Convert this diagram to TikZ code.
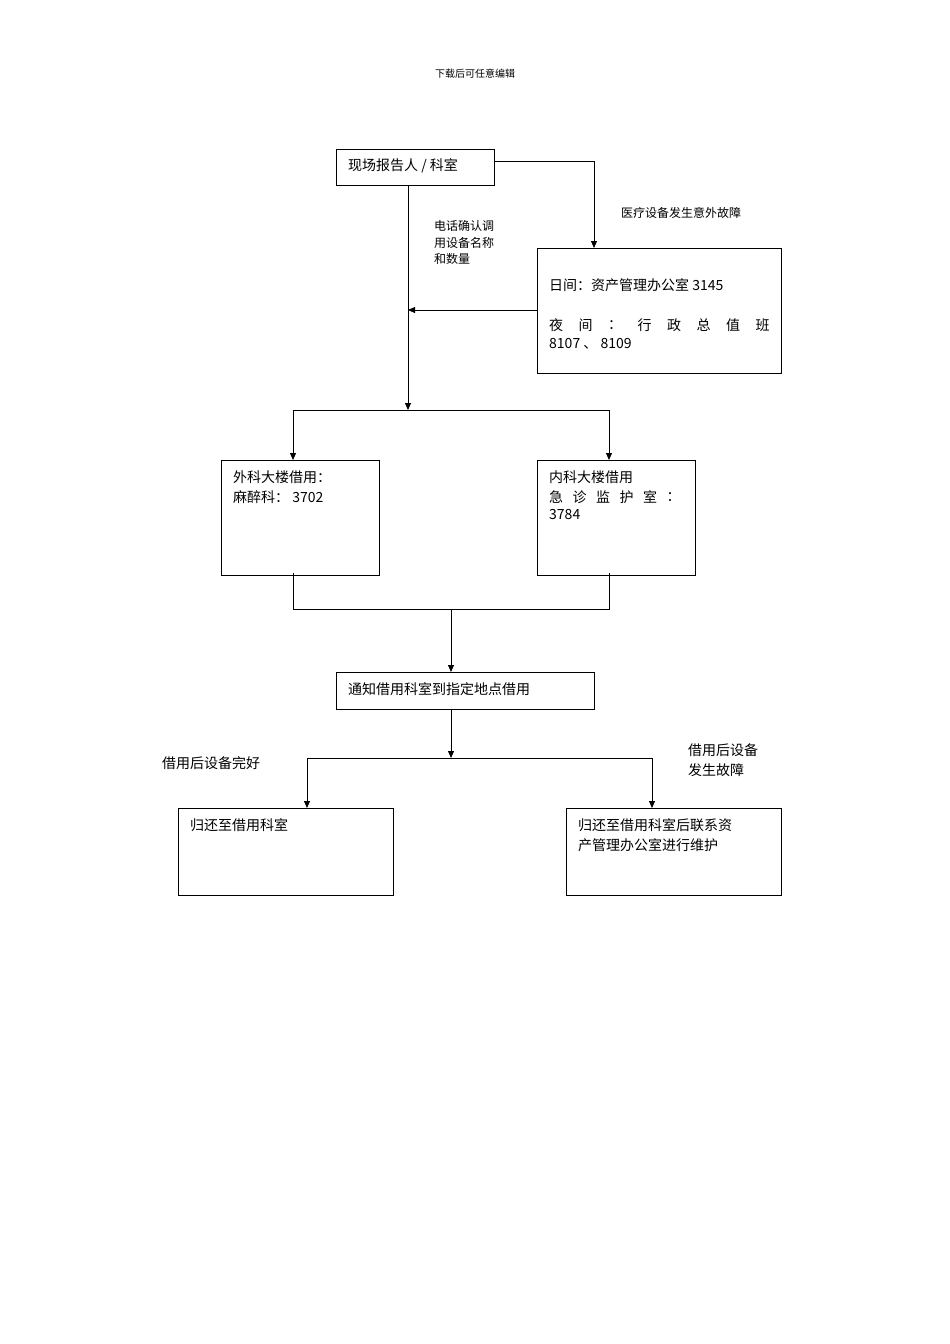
\documentclass[tikz,border=0pt]{standalone}
\usepackage{fontspec}
\setmainfont{Liberation Serif}
\newfontfamily\cjk{Noto Sans CJK SC}
\usetikzlibrary{arrows.meta}
\begin{document}
\begin{tikzpicture}[x=1pt,y=-1pt,
  box/.style={draw,line width=0.8pt},
  con/.style={line width=0.8pt},
  arr/.style={con,-{Triangle[length=7pt,width=6pt]}},
  t/.style={anchor=west,inner sep=0pt,font=\fontsize{14}{16}\selectfont\cjk},
  s/.style={anchor=west,inner sep=0pt,font=\fontsize{12}{14}\selectfont\cjk}]
\useasboundingbox (0,0) rectangle (950,1344);
\node[inner sep=0pt,font=\fontsize{10}{12}\selectfont\cjk] at (475,74) {下载后可任意编辑};
% boxes
\draw[box] (336,149) rectangle (494,185);
\node[t] at (348,166) {现场报告人 / 科室};
\draw[box] (537,248) rectangle (781,373);
\node[t] at (549,285) {日间：资产管理办公室 3145};
\foreach \c [count=\i from 0] in {夜,间,：,行,政,总,值,班} \node[t] at (549+\i*29.5,325) {\c};
\node[t] at (549,344) {8107 、 8109};
\draw[box] (221,460) rectangle (379,575);
\node[t] at (233,477) {外科大楼借用：};
\node[t] at (233,497) {麻醉科：\ 3702};
\draw[box] (537,460) rectangle (695,575);
\node[t] at (549,477) {内科大楼借用};
\foreach \c [count=\i from 0] in {急,诊,监,护,室,：} \node[t] at (549+\i*23.5,497) {\c};
\node[t] at (549,515) {3784};
\draw[box] (336,672) rectangle (594,709);
\node[t] at (348,689) {通知借用科室到指定地点借用};
\draw[box] (178,808) rectangle (393,895);
\node[t] at (190,825) {归还至借用科室};
\draw[box] (566,808) rectangle (781,895);
\node[t] at (578,825) {归还至借用科室后联系资};
\node[t] at (578,845) {产管理办公室进行维护};
% labels
\node[s] at (621,213) {医疗设备发生意外故障};
\node[s] at (434,226) {电话确认调};
\node[s] at (434,243) {用设备名称};
\node[s] at (434,259) {和数量};
\node[t] at (162,763) {借用后设备完好};
\node[t] at (688,750) {借用后设备};
\node[t] at (688,770) {发生故障};
% connectors
\coordinate (j1) at (408,410);
\draw[arr] (494,161) -| (594,248);
\draw[arr] (408,185) -- (j1);
\draw[arr] (537,310) -- (408,310);
\draw[con] (293,410) -- (609,410);
\draw[arr] (293,410) -- (293,460);
\draw[arr] (609,410) -- (609,460);
\draw[con] (293,573) |- (609,609) -- (609,573);
\draw[arr] (451,609) -- (451,672);
\draw[arr] (451,709) -- (451,758);
\draw[con] (307,758) -- (652,758);
\draw[arr] (307,758) -- (307,808);
\draw[arr] (652,758) -- (652,808);
\end{tikzpicture}
\end{document}
